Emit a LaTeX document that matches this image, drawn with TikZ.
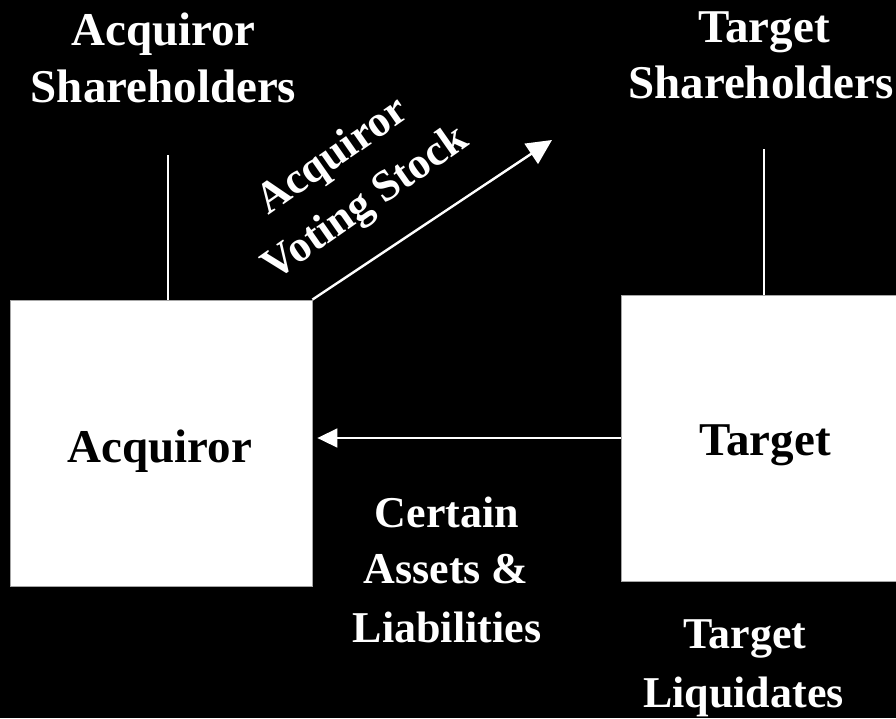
\documentclass[tikz,border=0pt]{standalone}
\usepackage{fontspec}
\setmainfont{Liberation Serif}
\usetikzlibrary{arrows.meta}
\begin{document}
\begin{tikzpicture}[x=1pt,y=-1pt,
  lbl/.style={text=white,font=\bfseries\fontsize{47}{57}\selectfont,anchor=base,inner sep=0pt},
  lblsm/.style={lbl,font=\bfseries\fontsize{44}{57}\selectfont},
  boxtxt/.style={lbl,text=black},
  blk/.style={draw=gray!70,fill=white,line width=0.8pt,inner sep=0pt,minimum height=286pt},
  link/.style={white,line width=1.3pt},
  flow/.style={white,line width=2.4pt,-{Triangle[length=25pt,width=24pt]}},
  flowthin/.style={white,line width=1.6pt,-{Triangle[length=20pt,width=19pt]},shorten >=5pt},
]
% background and page size
\fill[black] (0,0) rectangle (896,718);
\useasboundingbox (0,0) rectangle (896,718);

% the two companies
\node[blk,minimum width=302pt] (acq) at (161,443) {};
\node[blk,minimum width=288pt] (tgt) at (765,438) {};
\node[boxtxt] (acqtxt) at (160,462) {Acquiror};
\node[boxtxt] (tgttxt) at (765,455) {Target};

% shareholder labels
\node[lbl] (acqsh1) at (163.5,45) {Acquiror};
\node[lbl] (acqsh2) at (163.5,102) {Shareholders};
\node[lbl] (tgtsh1) at (764,42) {Target};
\node[lbl] (tgtsh2) at (761,98) {Shareholders};

% ownership links
\coordinate (acqtop) at (168,155);
\coordinate (tgttop) at (764,149);
\draw[link] (acqtop) -- (acqtop |- acq.north);
\draw[link] (tgttop) -- (tgttop |- tgt.north);

% stock to target shareholders
\coordinate (stk) at (552,140);
\draw[flow] (acq.north east) -- (stk);
\node[lblsm,anchor=center,align=center,rotate=35] (stklbl) at (350,181) {Acquiror\\Voting Stock};

% assets and liabilities to acquiror
\draw[flowthin] (tgt.west) -- (acq.east |- tgt.west);
\node[lblsm] (al1) at (447,527) {Certain};
\node[lblsm] (al2) at (446,583) {Assets \&};
\node[lblsm] (al3) at (447,642) {Liabilities};

% liquidation
\node[lblsm] (liq1) at (745,648) {Target};
\node[lblsm] (liq2) at (743.5,707) {Liquidates};
\end{tikzpicture}
\end{document}
